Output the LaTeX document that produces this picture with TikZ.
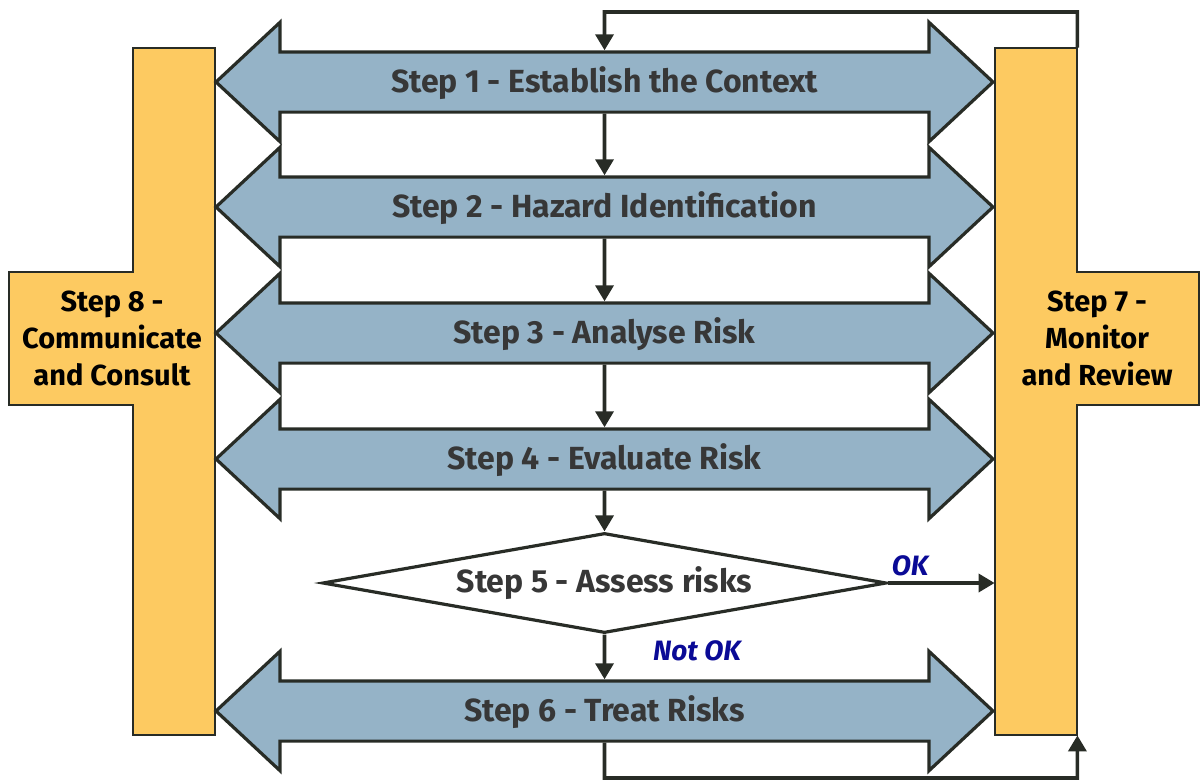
\documentclass[tikz,border=0pt]{standalone}
\usepackage{fontspec}
\setmainfont{Fira Sans}
\usetikzlibrary{arrows.meta,shapes.arrows,shapes.geometric,calc}
\definecolor{slateblue}{RGB}{149,179,199}
\definecolor{amber}{RGB}{253,202,97}
\definecolor{inkgray}{RGB}{40,44,38}
\definecolor{labelgray}{RGB}{55,55,55}
\definecolor{okblue}{RGB}{10,10,150}
\tikzset{
  stagearrow/.style={double arrow, draw=inkgray, line width=1.6pt, fill=slateblue,
                     double arrow head extend=14.75pt, double arrow tip angle=86,
                     minimum height=388.5pt, inner ysep=7.75pt, text height=11.5pt, text depth=1.5pt,
                     font=\bfseries\fontsize{16}{19}\selectfont, text=labelgray},
  sidebar/.style={rectangle, fill=amber, minimum width=41pt, minimum height=343.5pt, inner sep=0pt},
  sidebox/.style={rectangle, fill=amber, minimum height=66.5pt, inner sep=0pt, align=center,
                  font=\bfseries\fontsize{14.5}{18.5}\selectfont},
  outline/.style={draw=inkgray, line width=1pt, line join=miter},
  decision/.style={diamond, aspect=5.64, draw=inkgray, line width=1.6pt, fill=white, minimum width=282pt,
                   minimum height=50pt, inner sep=0pt, font=\bfseries\fontsize{16}{19}\selectfont,
                   text=labelgray},
  flow/.style={-{Triangle[length=8pt,width=9pt]}, draw=inkgray, line width=1.8pt},
  verdict/.style={font=\bfseries\itshape\fontsize{14}{17}\selectfont, text=okblue},
}

\begin{document}
\begin{tikzpicture}[x=0.5pt, y=-0.5pt]
\useasboundingbox (0,0) rectangle (1201,783);

% side columns
\node[sidebar] (comm) at (174,391.5) {};
\node[sidebox, minimum width=103pt] (commbox) at (112,338.5) {Step 8 -\\Communicate\\and Consult};
\draw[outline] (comm.north west) -- (comm.north east) -- (comm.south east) -- (comm.south west)
  -- (comm.west |- commbox.south) -- (commbox.south west) -- (commbox.north west)
  -- (comm.west |- commbox.north) -- cycle;

\node[sidebar] (monitor) at (1036,391.5) {};
\node[sidebox, minimum width=102pt] (monbox) at (1097,338.5) {Step 7 -\\Monitor\\and Review};
\draw[outline] (monitor.north east) -- (monitor.north west) -- (monitor.south west) -- (monitor.south east)
  -- (monitor.east |- monbox.south) -- (monbox.south east) -- (monbox.north east)
  -- (monitor.east |- monbox.north) -- cycle;

% process steps
\foreach \n/\y/\t in {a1/82/Step 1 - Establish the Context, a2/207/Step 2 - Hazard Identification,
                      a3/333/Step 3 - Analyse Risk, a4/459/Step 4 - Evaluate Risk, a6/711/Step 6 - Treat Risks}
  \node[stagearrow] (\n) at (604.5,\y) {\t};
\node[decision] (assess) at (604.5,583) {Step 5 - Assess risks};

\foreach \a/\b in {a1/a2, a2/a3, a3/a4, a4/assess, assess/a6}
  \draw[flow] (\a.south) -- (\b.north);
\draw[flow] (assess.east) -- (assess.east -| monitor.west);
\node[verdict] (ok) at (910,566) {OK};
\node[verdict] (notok) at (697,651) {Not OK};

% review loops
\coordinate (looptop) at (604.5,12);
\coordinate (loopbot) at (604.5,778);
\draw[flow] (monitor.north east) |- (looptop) -- (a1.north);
\draw[flow] (a6.south) -- (loopbot) -| (monitor.south east);
\end{tikzpicture}
\end{document}
